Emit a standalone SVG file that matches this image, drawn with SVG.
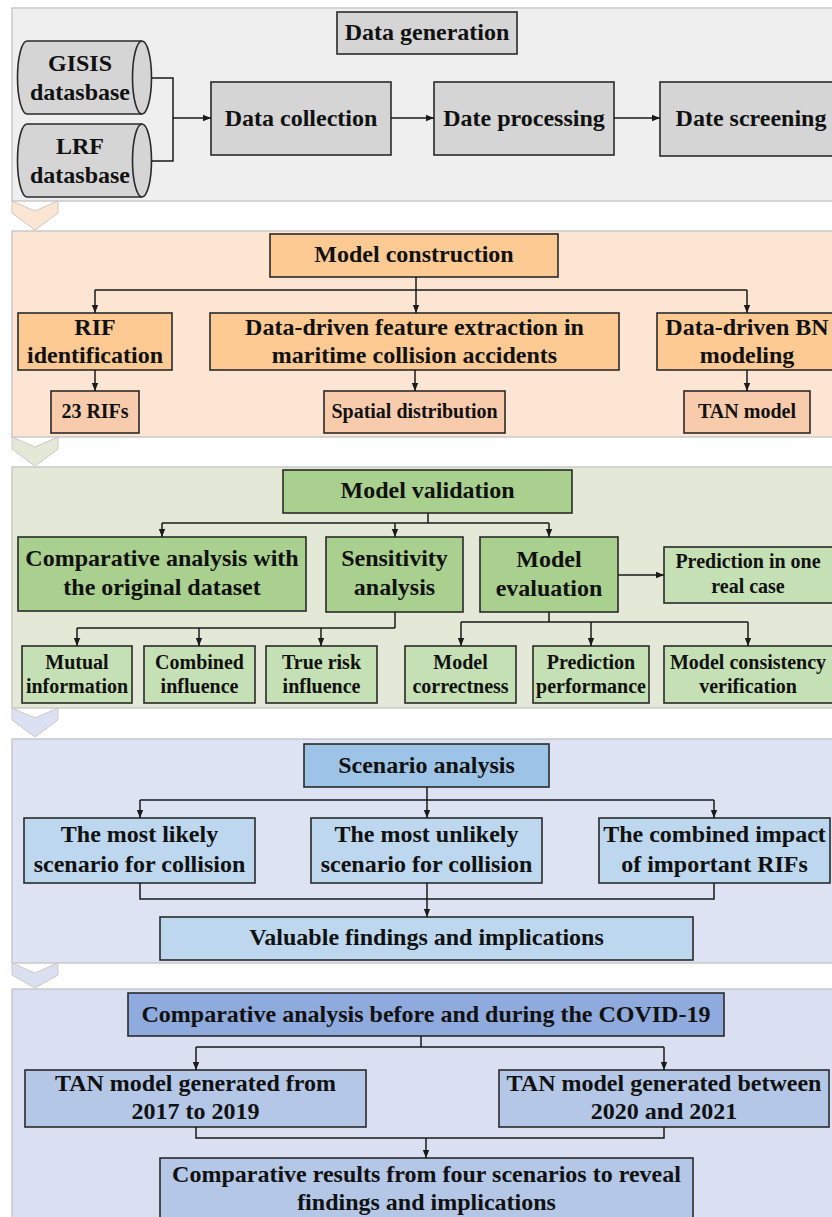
<svg xmlns="http://www.w3.org/2000/svg" width="832" height="1217" viewBox="0 0 832 1217">
  <defs>
    <marker id="arr" viewBox="0 0 10 10" refX="10" refY="5" markerWidth="8" markerHeight="8" markerUnits="userSpaceOnUse" orient="auto">
      <path d="M0,1 L10,5 L0,9 z" fill="#1a1a1a"/>
    </marker>
    <style>
      text { font-family: "Liberation Serif", "Times New Roman", serif; font-weight: bold; fill: #111; text-anchor: middle; }
      .big { font-size: 24px; }
      .sm { font-size: 20px; }
      .panel { stroke: #c3c3c3; stroke-width: 1.3; }
      .box { stroke: #2a2a2a; stroke-width: 1.6; }
      .chev { stroke: #cfc8c2; stroke-width: 1; }
      .gray { fill: #d5d5d5; }
      .or1 { fill: #fdca94; }
      .or2 { fill: #f8cbad; }
      .gr1 { fill: #a9d08e; }
      .gr2 { fill: #c5e0b4; }
      .bl1 { fill: #9dc3e6; }
      .bl2 { fill: #bdd7ee; }
      .pb1 { fill: #8faadc; }
      .pb2 { fill: #b4c7e7; }
      .conn path { fill: none; stroke: #1a1a1a; stroke-width: 1.5; }
      .conn path.a { marker-end: url(#arr); }
    </style>
  </defs>

  <!-- stage panels -->
  <g id="panels">
    <rect class="panel" x="12" y="8" width="830" height="193" fill="#efefef"/>
    <rect class="panel" x="12" y="231" width="830" height="206" fill="#fde5d3"/>
    <rect class="panel" x="12" y="467" width="830" height="241" fill="#e3e8d7"/>
    <rect class="panel" x="12" y="739" width="830" height="224" fill="#dde3f3"/>
    <rect class="panel" x="12" y="989" width="830" height="240" fill="#dadff1"/>
  </g>

  <!-- chevrons between stages -->
  <g id="chevrons">
    <path class="chev" d="M12,201 L35,211 L58,201 L58,213 L35,230 L12,213 Z" fill="#fde5d3"/>
    <path class="chev" d="M12,437 L35,447 L58,437 L58,449 L35,466 L12,449 Z" fill="#e3e8d7"/>
    <path class="chev" d="M12,708 L35,718 L58,708 L58,720 L35,737 L12,720 Z" fill="#dbe1f2"/>
    <path class="chev" d="M12,963 L35,973 L58,963 L58,975 L35,988 L12,975 Z" fill="#dadff1"/>
  </g>

  <!-- stage 1: data generation -->
  <g id="n-datagen"><rect class="box gray" x="337" y="12" width="180" height="42"/><text class="big" x="427" y="40">Data generation</text></g>
  <g id="n-gisis">
    <path class="box gray" d="M27,41 H142 A9.5,36.5 0 0 1 142,114 H27 A9.5,36.5 0 0 1 27,41 Z"/>
    <path class="box" fill="none" d="M142,41 A9.5,36.5 0 0 0 142,114"/>
    <text class="big" x="80" y="71">GISIS</text><text class="big" x="80" y="100">datasbase</text>
  </g>
  <g id="n-lrf">
    <path class="box gray" d="M27,124 H142 A9.5,36.5 0 0 1 142,197 H27 A9.5,36.5 0 0 1 27,124 Z"/>
    <path class="box" fill="none" d="M142,124 A9.5,36.5 0 0 0 142,197"/>
    <text class="big" x="80" y="154">LRF</text><text class="big" x="80" y="183">datasbase</text>
  </g>
  <g id="n-collect"><rect class="box gray" x="211" y="82" width="180" height="73"/><text class="big" x="301" y="126">Data collection</text></g>
  <g id="n-process"><rect class="box gray" x="434" y="82" width="180" height="73"/><text class="big" x="524" y="126">Date processing</text></g>
  <g id="n-screen"><rect class="box gray" x="660" y="82" width="182" height="74"/><text class="big" x="751" y="126">Date screening</text></g>

  <!-- stage 2: model construction -->
  <g id="n-modelcons"><rect class="box or1" x="270" y="234" width="288" height="43"/><text class="big" x="414" y="262">Model construction</text></g>
  <g id="n-rif"><rect class="box or1" x="18" y="313" width="154" height="57"/><text class="big" x="95" y="335">RIF</text><text class="big" x="95" y="363">identification</text></g>
  <g id="n-feature"><rect class="box or1" x="210" y="313" width="409" height="57"/><text class="big" x="414.5" y="335">Data-driven feature extraction in</text><text class="big" x="414.5" y="363">maritime collision accidents</text></g>
  <g id="n-bn"><rect class="box or1" x="657" y="313" width="180" height="57"/><text class="big" x="747" y="335">Data-driven BN</text><text class="big" x="747" y="363">modeling</text></g>
  <g id="n-23rifs"><rect class="box or2" x="51" y="391" width="88" height="42"/><text class="sm" x="95" y="418">23 RIFs</text></g>
  <g id="n-spatial"><rect class="box or2" x="324" y="391" width="181" height="42"/><text class="sm" x="414.5" y="418">Spatial distribution</text></g>
  <g id="n-tan"><rect class="box or2" x="684" y="391" width="126" height="42"/><text class="sm" x="747" y="418">TAN model</text></g>

  <!-- stage 3: model validation -->
  <g id="n-modelval"><rect class="box gr1" x="283" y="470" width="289" height="43"/><text class="big" x="427.5" y="498">Model validation</text></g>
  <g id="n-compare"><rect class="box gr1" x="18" y="537" width="288" height="74"/><text class="big" x="162" y="566">Comparative analysis with</text><text class="big" x="162" y="595">the original dataset</text></g>
  <g id="n-sens"><rect class="box gr1" x="326" y="537" width="137" height="75"/><text class="big" x="394.5" y="566">Sensitivity</text><text class="big" x="394.5" y="595">analysis</text></g>
  <g id="n-eval"><rect class="box gr1" x="480" y="537" width="138" height="75"/><text class="big" x="549" y="567">Model</text><text class="big" x="549" y="596">evaluation</text></g>
  <g id="n-predreal"><rect class="box gr2" x="664" y="547" width="180" height="56"/><text class="sm" x="748" y="568">Prediction in one</text><text class="sm" x="748" y="593">real case</text></g>
  <g id="n-mutual"><rect class="box gr2" x="22" y="646" width="110" height="57"/><text class="sm" x="77" y="669">Mutual</text><text class="sm" x="77" y="693">information</text></g>
  <g id="n-combined"><rect class="box gr2" x="144" y="646" width="111" height="57"/><text class="sm" x="199.5" y="669">Combined</text><text class="sm" x="199.5" y="693">influence</text></g>
  <g id="n-truerisk"><rect class="box gr2" x="266" y="646" width="111" height="57"/><text class="sm" x="321.5" y="669">True risk</text><text class="sm" x="321.5" y="693">influence</text></g>
  <g id="n-correct"><rect class="box gr2" x="405" y="646" width="111" height="57"/><text class="sm" x="460.5" y="669">Model</text><text class="sm" x="460.5" y="693">correctness</text></g>
  <g id="n-perf"><rect class="box gr2" x="533" y="646" width="116" height="57"/><text class="sm" x="591" y="669">Prediction</text><text class="sm" x="591" y="693">performance</text></g>
  <g id="n-consist"><rect class="box gr2" x="664" y="646" width="180" height="57"/><text class="sm" x="748" y="669">Model consistency</text><text class="sm" x="748" y="693">verification</text></g>

  <!-- stage 4: scenario analysis -->
  <g id="n-scen"><rect class="box bl1" x="304" y="744" width="245" height="43"/><text class="big" x="426.5" y="773">Scenario analysis</text></g>
  <g id="n-likely"><rect class="box bl2" x="24" y="818" width="231" height="65"/><text class="big" x="139.5" y="842">The most likely</text><text class="big" x="139.5" y="872">scenario for collision</text></g>
  <g id="n-unlikely"><rect class="box bl2" x="311" y="818" width="231" height="65"/><text class="big" x="426.5" y="842">The most unlikely</text><text class="big" x="426.5" y="872">scenario for collision</text></g>
  <g id="n-impact"><rect class="box bl2" x="599" y="818" width="231" height="65"/><text class="big" x="714.5" y="842">The combined impact</text><text class="big" x="714.5" y="872">of important RIFs</text></g>
  <g id="n-valuable"><rect class="box bl2" x="160" y="917" width="533" height="43"/><text class="big" x="426.5" y="945">Valuable findings and implications</text></g>

  <!-- stage 5: comparative analysis -->
  <g id="n-covid"><rect class="box pb1" x="128" y="993" width="596" height="43"/><text class="big" x="426" y="1022">Comparative analysis before and during the COVID-19</text></g>
  <g id="n-tan1719"><rect class="box pb2" x="25" y="1070" width="341" height="57"/><text class="big" x="195.5" y="1091">TAN model generated from</text><text class="big" x="195.5" y="1119">2017 to 2019</text></g>
  <g id="n-tan2021"><rect class="box pb2" x="499" y="1070" width="330" height="57"/><text class="big" x="664" y="1091">TAN model generated between</text><text class="big" x="664" y="1119">2020 and 2021</text></g>
  <g id="n-results"><rect class="box pb2" x="160" y="1158" width="533" height="70"/><text class="big" x="426.5" y="1182">Comparative results from four scenarios to reveal</text><text class="big" x="426.5" y="1210">findings and implications</text></g>

  <!-- connectors -->
  <g id="connectors" class="conn">
    <path d="M152,78 H173 V161 H152"/>
    <path class="a" d="M173,118 H211"/>
    <path class="a" d="M391,118 H434"/>
    <path class="a" d="M614,118 H660"/>

    <path d="M416,277 V290 M95,290 H747"/>
    <path class="a" d="M95,290 V313"/>
    <path class="a" d="M416,290 V313"/>
    <path class="a" d="M747,290 V313"/>
    <path class="a" d="M95,370 V391"/>
    <path class="a" d="M415,370 V391"/>
    <path class="a" d="M747,370 V391"/>

    <path d="M428,513 V523 M162,523 H549"/>
    <path class="a" d="M162,523 V537"/>
    <path class="a" d="M395,523 V537"/>
    <path class="a" d="M549,523 V537"/>
    <path class="a" d="M618,575 H664"/>
    <path d="M395,612 V628 M77,628 H395"/>
    <path class="a" d="M77,628 V646"/>
    <path class="a" d="M199,628 V646"/>
    <path class="a" d="M321,628 V646"/>
    <path d="M549,612 V622 M461,622 H748"/>
    <path class="a" d="M461,622 V646"/>
    <path class="a" d="M591,622 V646"/>
    <path class="a" d="M748,622 V646"/>

    <path d="M427,787 V800 M140,800 H714"/>
    <path class="a" d="M140,800 V818"/>
    <path class="a" d="M427,800 V818"/>
    <path class="a" d="M714,800 V818"/>
    <path d="M140,883 V899 H714 V883"/>
    <path class="a" d="M427,883 V917"/>

    <path d="M421,1036 V1047 M196,1047 H664"/>
    <path class="a" d="M196,1047 V1070"/>
    <path class="a" d="M664,1047 V1070"/>
    <path d="M196,1127 V1138 H664 V1127"/>
    <path class="a" d="M426,1138 V1158"/>
  </g>
</svg>
